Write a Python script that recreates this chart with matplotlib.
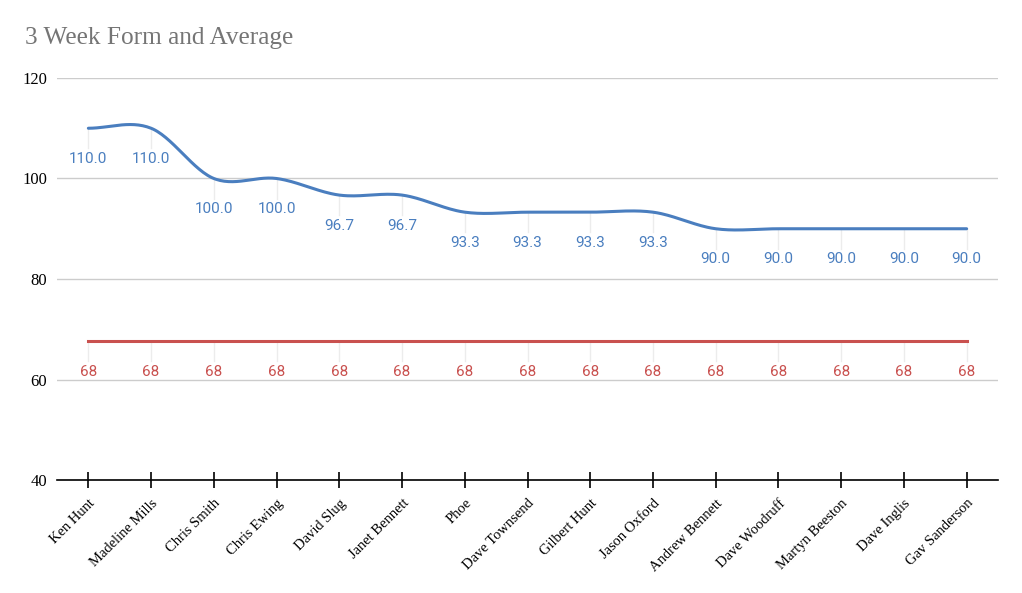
import numpy as np
import matplotlib.pyplot as plt

players = ["Ken Hunt", "Madeline Mills", "Chris Smith", "Chris Ewing", "David Slug",
           "Janet Bennett", "Phoe", "Dave Townsend", "Gilbert Hunt", "Jason Oxford",
           "Andrew Bennett", "Dave Woodruff", "Martyn Beeston", "Dave Inglis", "Gav Sanderson"]
form = [110.0, 110.0, 100.0, 100.0, 96.7, 96.7, 93.3, 93.3, 93.3, 93.3,
        90.0, 90.0, 90.0, 90.0, 90.0]
average = [67.6] * 15

blue = "#4a7ebf"
red = "#c9514f"


def smooth(x, y, steps=30):
    # catmull-rom style curve through the points (drawing only)
    x = np.asarray(x, float)
    y = np.asarray(y, float)
    n = len(y)
    m = np.zeros(n)
    for i in range(n):
        a = y[max(i - 1, 0)]
        b = y[min(i + 1, n - 1)]
        m[i] = (b - a) / 2
    xs, ys = [], []
    for i in range(n - 1):
        t = np.linspace(0, 1, steps, endpoint=False)
        h00 = 2 * t**3 - 3 * t**2 + 1
        h10 = t**3 - 2 * t**2 + t
        h01 = -2 * t**3 + 3 * t**2
        h11 = t**3 - t**2
        xs.extend(x[i] + t * (x[i + 1] - x[i]))
        ys.extend(h00 * y[i] + h10 * m[i] + h01 * y[i + 1] + h11 * m[i + 1])
    xs.append(x[-1])
    ys.append(y[-1])
    return np.array(xs), np.array(ys)


fig = plt.figure(figsize=(10.22, 5.93), dpi=100)
ax = fig.add_axes([57 / 1022, 1 - 480 / 593, 941 / 1022, 402 / 593])

pos = np.arange(len(players))
sx, sy = smooth(pos, form)
ax.plot(sx, sy, color=blue, lw=2.2, zorder=3, solid_capstyle="round")
ax.plot(pos, average, color=red, lw=2.2, zorder=3)

for i in pos:
    # faint leader lines and value labels under each point
    for val, col, txt in [(form[i], blue, "%.1f" % form[i]), (average[i], red, "%d" % round(average[i]))]:
        ax.plot([i, i], [val, val - 4.0], color="#ececec", lw=1, zorder=1)
        ax.annotate(txt, xy=(i, val), xytext=(0, -22), textcoords="offset points",
                    ha="center", va="center", color=col, fontsize=11, family="Roboto")

ax.set_xlim(-0.5, len(players) - 0.5)
ax.set_ylim(40, 120)
ax.set_yticks([40, 60, 80, 100, 120])
ax.grid(axis="y", color="#cccccc", lw=1)
ax.set_axisbelow(True)
for s in ["top", "right", "left"]:
    ax.spines[s].set_visible(False)
ax.spines["bottom"].set_color("black")
ax.spines["bottom"].set_linewidth(1.2)
ax.spines["bottom"].set_zorder(4)

ax.set_xticks(pos)
ax.set_xticklabels(players, rotation=45, ha="right", rotation_mode="anchor",
                   family="Liberation Serif", fontsize=10.5)
ax.tick_params(axis="x", direction="inout", length=12, width=1.2, pad=6)
ax.tick_params(axis="y", length=0, pad=7, labelsize=12)
for lab in ax.get_yticklabels():
    lab.set_family("Liberation Serif")

fig.text(25 / 1022, 1 - 38 / 593, "3 Week Form and Average", family="Liberation Serif",
         fontsize=18.2, color="#757575", va="center", ha="left")

fig.savefig("out.png", dpi=100)
